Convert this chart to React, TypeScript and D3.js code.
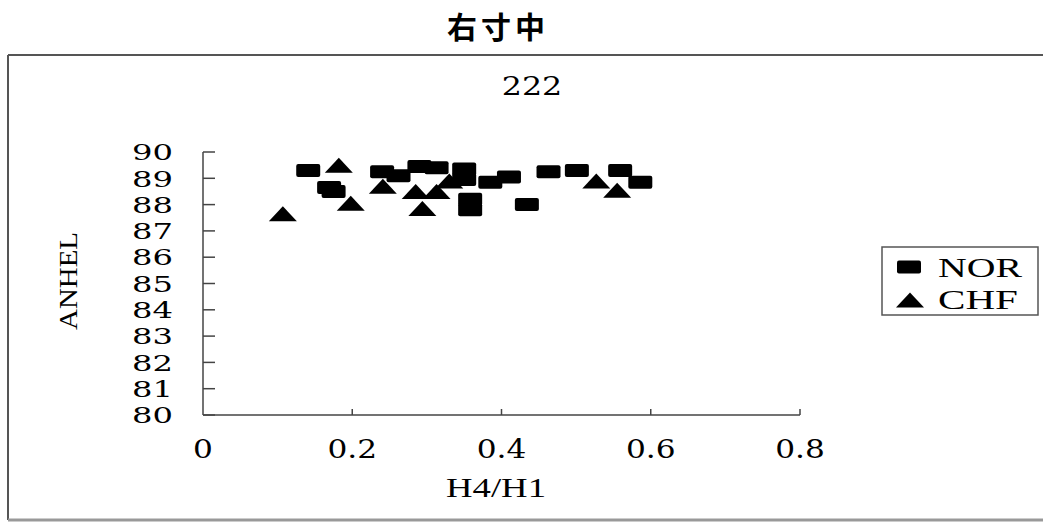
import React from 'react';
import * as d3 from 'd3';

// values (H4/H1 vs ANHEL)
const norX = [0.141, 0.169, 0.175, 0.240, 0.262, 0.290, 0.313, 0.350, 0.350, 0.358, 0.358, 0.385, 0.410, 0.434, 0.463, 0.501, 0.559, 0.586];
const norY = [89.3, 88.65, 88.5, 89.25, 89.1, 89.45, 89.4, 89.35, 88.95, 88.2, 87.8, 88.85, 89.05, 88.0, 89.25, 89.3, 89.3, 88.85];
const chfX = [0.107, 0.182, 0.198, 0.241, 0.285, 0.313, 0.294, 0.330, 0.527, 0.555];
const chfY = [87.65, 89.5, 88.05, 88.7, 88.5, 88.5, 87.85, 88.9, 88.9, 88.55];
const yTicks = [80, 81, 82, 83, 84, 85, 86, 87, 88, 89, 90];
const xTicks = [0, 0.2, 0.4, 0.6, 0.8];
const seriesNames = ['NOR', 'CHF'];

const serif = '"DejaVu Serif", "Liberation Serif", serif';
const times = '"Liberation Serif", serif';
const axisColor = '#444';

const x = d3.scaleLinear().domain([0, 0.8]).range([203, 800]);
const y = d3.scaleLinear().domain([80, 90]).range([415, 152]);

const triPath = (w: number, h: number) => `M0,${-h / 2}L${w / 2},${h / 2}L${-w / 2},${h / 2}Z`;

const Square = ({ cx, cy }: { cx: number; cy: number }) => (
  <rect x={cx - 12} y={cy - 6.5} width={24} height={13} rx={2} fill="#000" />
);
const Triangle = ({ cx, cy }: { cx: number; cy: number }) => (
  <path d={triPath(28, 15)} transform={`translate(${cx},${cy})`} fill="#000" />
);

// wide book-style digits: stretch the text horizontally
const Wide = ({ px, py, sx = 1.22, anchor = 'middle', size = 26, family = serif, children }: any) => (
  <g transform={`translate(${px},${py}) scale(${sx},1)`}>
    <text dy="0.36em" textAnchor={anchor} fontFamily={family} fontSize={size}>{children}</text>
  </g>
);

export default function App() {
  return (
    <svg width={1043} height={524} style={{ position: 'absolute', left: 0, top: 0, background: '#fff' }}>
      {/* title */}
      <text x={498} y={38} textAnchor="middle" fontFamily='"Noto Sans CJK SC", sans-serif'
        fontWeight={700} fontSize={30} letterSpacing={4}>右寸中</text>

      {/* outer frame */}
      <line x1={8} x2={1043} y1={55} y2={55} stroke="#555" strokeWidth={2} />
      <line x1={8} x2={8} y1={55} y2={520} stroke="#555" strokeWidth={2} />
      <line x1={8} x2={1043} y1={520} y2={520} stroke="#999" strokeWidth={3} />

      <Wide px={532} py={86} size={26}>222</Wide>

      {/* y axis */}
      <line x1={x(0)} x2={x(0)} y1={y(90)} y2={y(80)} stroke={axisColor} strokeWidth={1.5} />
      {yTicks.map(t => (
        <g key={t}>
          <line x1={x(0)} x2={x(0) + 12} y1={y(t)} y2={y(t)} stroke={axisColor} strokeWidth={1.5} />
          <Wide px={173} py={y(t)} anchor="end" size={23} sx={1.4}>{t}</Wide>
        </g>
      ))}

      {/* x axis */}
      <line x1={x(0)} x2={x(0.8)} y1={y(80)} y2={y(80)} stroke={axisColor} strokeWidth={1.5} />
      {xTicks.map(t => (
        <g key={t}>
          {t > 0 && <line x1={x(t)} x2={x(t)} y1={y(80)} y2={y(80) - 6} stroke={axisColor} strokeWidth={1.5} />}
          <Wide px={x(t)} py={449} sx={1.2}>{t}</Wide>
        </g>
      ))}
      <text x={496} y={488} dy="0.35em" textAnchor="middle" fontFamily={times} fontSize={27}
        textLength={100} lengthAdjust="spacingAndGlyphs">H4/H1</text>

      <text transform="translate(68,281) rotate(-90)" textAnchor="middle" dy="0.35em" fontFamily={times}
        fontSize={26} textLength={98} lengthAdjust="spacingAndGlyphs">ANHEL</text>

      {/* points */}
      {chfX.map((v, i) => <Triangle key={'c' + i} cx={x(v)} cy={y(chfY[i])} />)}
      {norX.map((v, i) => <Square key={'n' + i} cx={x(v)} cy={y(norY[i])} />)}

      {/* legend */}
      <rect x={882} y={247} width={156} height={68} fill="#fff" stroke="#555" strokeWidth={1.5} />
      <Square cx={909} cy={267} />
      <Triangle cx={910} cy={300} />
      <text x={938} y={268} dy="0.35em" fontFamily={times} fontSize={27} textLength={84} lengthAdjust="spacingAndGlyphs">{seriesNames[0]}</text>
      <text x={938} y={300} dy="0.35em" fontFamily={times} fontSize={27} textLength={80} lengthAdjust="spacingAndGlyphs">{seriesNames[1]}</text>
    </svg>
  );
}
